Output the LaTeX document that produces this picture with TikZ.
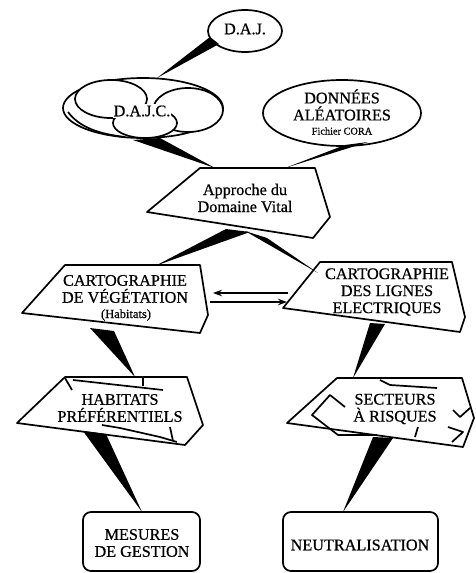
\documentclass[tikz,border=0pt]{standalone}
\usepackage{fontspec}
\setmainfont{Liberation Serif}[FakeBold=0.6]
\newfontfamily\scanfont{Liberation Serif}[FakeBold=0.6]
\usetikzlibrary{arrows.meta}

\tikzset{
  outline/.style={line width=1.7pt, line join=round},
  wedge/.style={fill=black},
  lbl/.style={font=\scanfont\fontsize{16.2}{17}\selectfont, align=center, inner sep=0pt},
  smalllbl/.style={font=\scanfont\fontsize{10.3}{12}\selectfont, inner sep=0pt},
  linkarrow/.style={line width=1.2pt, -{Stealth[length=9pt,width=6.5pt]}}
}

\begin{document}
\begin{tikzpicture}[x=1pt,y=1pt,yscale=-1,xscale=1]
\useasboundingbox (0,0) rectangle (475,573);

%Ellipse: D.A.J.
\draw [outline]  (245,31) ellipse (37 and 21) ;
%Cloud: D.A.J.C.
\draw [outline]  (143,108) ellipse (80 and 30) ;
\draw [outline]  (68,112) .. controls (80,128) and (100,134) .. (125,137) ;
\draw [outline, fill=white]  (111,99) ellipse (36 and 19) ;
\draw [outline, fill=white]  (188,110) ellipse (35 and 22) ;
\draw [outline, fill=white]  (145,123) ellipse (32 and 15) ;
%Ellipse: DONNEES
\draw [outline]  (342,113) ellipse (79 and 33) ;

%Polygon: Approche
\draw [outline]  (200,168) -- (315,168) -- (330,217) -- (313,238) -- (147,212) -- cycle ;
%Polygon: vegetation
\draw [outline]  (65,265) -- (200,265) -- (208,315) -- (200,333) -- (22,313) -- cycle ;
%Polygon: lignes
\draw [outline]  (320,262) -- (452,262) -- (465,317) -- (460,332) -- (283,308) -- cycle ;
%Polygon: habitats
\draw [outline]  (65,377) -- (187,377) -- (203,425) -- (185,445) -- (17,423) -- cycle ;
\draw [outline]  (65,378) -- (72,390) ;
\draw [outline]  (73,380) -- (163,390) ;
\draw [outline]  (143,377) -- (143,386) ;
\draw [outline]  (102,425) -- (120,428) -- (160,437) -- (177,442) ;
\draw [outline]  (170,427) -- (173,441) ;
%Polygon: secteurs
\draw [outline]  (337,378) -- (462,378) -- (474,418) -- (463,447) -- (287,423) -- cycle ;
\draw [outline]  (345,407) -- (330,395) -- (312,415) -- (338,435) -- (377,435) ;
\draw [outline]  (380,380) -- (390,385) -- (437,388) ;
\draw [outline]  (453,410) -- (460,417) -- (470,408) ;
\draw [outline]  (418,427) -- (415,437) ;
\draw [outline]  (448,427) -- (463,432) -- (452,442) ;
%Rounded boxes
\draw [outline, rounded corners=8]  (83,512) rectangle (200,571) ;
\draw [outline, rounded corners=8]  (283,512) rectangle (438,571) ;

% Text Node
\node [lbl] (daj) at (245,29) {D.A.J.};
\node [lbl, fill=white, inner xsep=1pt, inner ysep=2pt] (dajc) at (142,111) {D.A.J.C.};
\node [lbl] (donnees) at (342,105) {DONNÉES\\ALÉATOIRES};
\node [smalllbl] (cora) at (342,131) {Fichier CORA};
\node [lbl] (approche) at (245,198) {Approche du\\Domaine Vital};
\node [lbl] (vege) at (125,289) {CARTOGRAPHIE\\DE VÉGÉTATION};
\node [font=\scanfont\fontsize{12.5}{13}\selectfont, inner sep=0pt] (habit) at (126,315) {(Habitats)};
\node [lbl] (lignes) at (387,292) {CARTOGRAPHIE\\DES LIGNES\\ELECTRIQUES};
\node [lbl] (habitats) at (120,408) {HABITATS\\PRÉFÉRENTIELS};
\node [lbl] (secteurs) at (395,409) {SECTEURS\\À RISQUES};
\node [lbl] (mesures) at (142,543) {MESURES\\DE GESTION};
\node [lbl] (neutra) at (360,545) {NEUTRALISATION};

% Wedge ends
\coordinate (daj-a) at (210,37);  \coordinate (daj-b) at (219,44);  \coordinate (dajc-t) at (157,78);
\coordinate (dajc-a) at (133,140); \coordinate (dajc-b) at (160,138); \coordinate (appr-l) at (215,168);
\coordinate (donn-a) at (345,145); \coordinate (donn-b) at (368,142); \coordinate (appr-r) at (285,168);
\coordinate (appr-a) at (226,229); \coordinate (appr-b) at (250,232); \coordinate (vege-t) at (155,266);
\coordinate (appr-c) at (245,231); \coordinate (appr-d) at (267,238); \coordinate (lign-t) at (318,273);
\coordinate (vege-a) at (90,328);  \coordinate (vege-b) at (114,331); \coordinate (habi-t) at (135,377);
\coordinate (lign-a) at (370,323); \coordinate (lign-b) at (385,324); \coordinate (sect-t) at (353,378);
\coordinate (habi-a) at (83,431);  \coordinate (habi-b) at (106,434); \coordinate (mesu-t) at (142,512);
\coordinate (sect-a) at (373,437); \coordinate (sect-b) at (393,438); \coordinate (neut-t) at (343,512);

%Wedges
\fill [wedge]  (daj-a) -- (daj-b) -- (dajc-t) -- cycle ;
\fill [wedge]  (dajc-a) -- (dajc-b) -- (appr-l) -- cycle ;
\fill [wedge]  (donn-a) -- (donn-b) -- (appr-r) -- cycle ;
\fill [wedge]  (appr-a) -- (appr-b) -- (vege-t) -- cycle ;
\fill [wedge]  (appr-c) -- (appr-d) -- (lign-t) -- cycle ;
\fill [wedge]  (vege-a) -- (vege-b) -- (habi-t) -- cycle ;
\fill [wedge]  (lign-a) -- (lign-b) -- (sect-t) -- cycle ;
\fill [wedge]  (habi-a) -- (habi-b) -- (mesu-t) -- cycle ;
\fill [wedge]  (sect-a) -- (sect-b) -- (neut-t) -- cycle ;

%Arrows
\coordinate (arr-ra) at (288,293); \coordinate (arr-la) at (213,293);
\coordinate (arr-lb) at (210,302); \coordinate (arr-rb) at (287,302);
\draw [linkarrow]  (arr-ra) -- (arr-la) ;
\draw [linkarrow]  (arr-lb) -- (arr-rb) ;

\end{tikzpicture}
\end{document}
